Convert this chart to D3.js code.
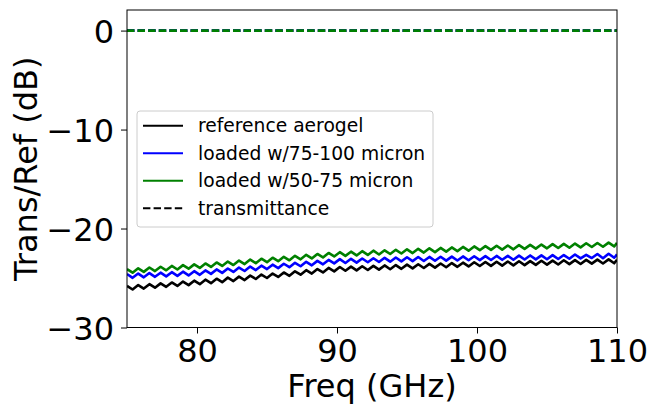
<!DOCTYPE html>
<html><head><meta charset="utf-8">
<script src="https://cdn.jsdelivr.net/npm/d3@7"></script>
<style>body{margin:0;background:#fff}svg{display:block}</style>
</head><body>
<script>
const freq = [75.0,75.4,75.8,76.2,76.6,77.0,77.4,77.8,78.2,78.6,79.0,79.4,79.8,80.2,80.6,81.0,81.4,81.8,82.2,82.6,83.0,83.4,83.8,84.2,84.6,85.0,85.4,85.8,86.2,86.6,87.0,87.4,87.8,88.2,88.6,89.0,89.4,89.8,90.2,90.6,91.0,91.4,91.8,92.2,92.6,93.0,93.4,93.8,94.2,94.6,95.0,95.4,95.8,96.2,96.6,97.0,97.4,97.8,98.2,98.6,99.0,99.4,99.8,100.2,100.6,101.0,101.4,101.8,102.2,102.6,103.0,103.4,103.8,104.2,104.6,105.0,105.4,105.8,106.2,106.6,107.0,107.4,107.8,108.2,108.6,109.0,109.4,109.8,110.0];
const referenceAerogel = [-25.80,-26.16,-25.71,-26.07,-25.62,-25.98,-25.54,-25.89,-25.45,-25.80,-25.36,-25.72,-25.27,-25.62,-25.17,-25.52,-25.07,-25.42,-24.96,-25.31,-24.86,-25.21,-24.76,-25.10,-24.65,-25.00,-24.55,-24.89,-24.44,-24.78,-24.32,-24.66,-24.21,-24.55,-24.10,-24.44,-23.98,-24.33,-23.89,-24.27,-23.85,-24.23,-23.81,-24.19,-23.77,-24.15,-23.73,-24.11,-23.69,-24.07,-23.65,-24.03,-23.61,-23.99,-23.57,-23.95,-23.53,-23.91,-23.49,-23.87,-23.45,-23.83,-23.41,-23.79,-23.38,-23.77,-23.36,-23.75,-23.33,-23.72,-23.31,-23.70,-23.29,-23.67,-23.26,-23.65,-23.24,-23.63,-23.21,-23.60,-23.19,-23.58,-23.17,-23.55,-23.14,-23.53,-23.12,-23.51,-23.15];
const loaded75to100 = [-24.60,-24.98,-24.55,-24.93,-24.50,-24.88,-24.46,-24.83,-24.41,-24.78,-24.36,-24.74,-24.31,-24.68,-24.23,-24.58,-24.13,-24.48,-24.04,-24.39,-23.94,-24.29,-23.84,-24.20,-23.75,-24.10,-23.65,-24.00,-23.56,-23.91,-23.46,-23.81,-23.36,-23.72,-23.27,-23.62,-23.17,-23.52,-23.09,-23.48,-23.06,-23.44,-23.03,-23.41,-23.00,-23.38,-22.96,-23.35,-22.93,-23.32,-22.90,-23.29,-22.88,-23.28,-22.87,-23.26,-22.85,-23.24,-22.84,-23.23,-22.82,-23.21,-22.80,-23.19,-22.79,-23.18,-22.77,-23.16,-22.76,-23.15,-22.74,-23.13,-22.72,-23.12,-22.71,-23.10,-22.69,-23.08,-22.68,-23.05,-22.62,-23.02,-22.66,-22.98,-22.58,-23.00,-22.55,-22.95,-22.62];
const loaded50to75 = [-24.10,-24.46,-24.02,-24.38,-23.94,-24.30,-23.86,-24.22,-23.78,-24.14,-23.70,-24.06,-23.62,-23.98,-23.53,-23.88,-23.43,-23.78,-23.34,-23.69,-23.24,-23.59,-23.14,-23.50,-23.05,-23.40,-22.95,-23.30,-22.86,-23.21,-22.76,-23.11,-22.66,-23.02,-22.57,-22.92,-22.47,-22.82,-22.39,-22.76,-22.34,-22.72,-22.29,-22.67,-22.24,-22.62,-22.20,-22.57,-22.15,-22.52,-22.10,-22.48,-22.05,-22.43,-22.00,-22.38,-21.96,-22.33,-21.91,-22.28,-21.86,-22.24,-21.81,-22.19,-21.78,-22.16,-21.74,-22.13,-21.71,-22.10,-21.68,-22.06,-21.65,-22.03,-21.62,-22.00,-21.58,-21.97,-21.55,-21.94,-21.52,-21.90,-21.49,-21.87,-21.46,-21.84,-21.42,-21.81,-21.45];
const transFreq = [75, 110];
const transmittance = [0, 0];
const xTicks = [80, 90, 100, 110];
const yTicks = [0, -10, -20, -30];
const seriesNames = ["reference aerogel", "loaded w/75-100 micron", "loaded w/50-75 micron", "transmittance"];
const seriesColors = ["#000000", "#0000ff", "#008000"];

const W = 647, H = 406;
const L = 127, R = 617, T = 10, B = 327.5;
const FONT = "'DejaVu Sans', sans-serif";
const svg = d3.select("body").append("svg").attr("width", W).attr("height", H);
const x = d3.scaleLinear().domain([75, 110]).range([L, R]);
const y = d3.scaleLinear().domain([-30, 2.08]).range([B, T]);

svg.append("clipPath").attr("id", "c").append("rect")
  .attr("x", L).attr("y", T).attr("width", R - L).attr("height", B - T);
const g = svg.append("g").attr("clip-path", "url(#c)");

const line = d3.line().x(d => x(d[0])).y(d => y(d[1]));
const series = [referenceAerogel, loaded75to100, loaded50to75];
series.forEach((vals, i) => {
  g.append("path").datum(freq.map((f, k) => [f, vals[k]]))
    .attr("d", line).attr("fill", "none").attr("stroke", seriesColors[i])
    .attr("stroke-width", 2.6).attr("stroke-linejoin", "round");
});
seriesColors.forEach(c => {
  g.append("path").datum(transFreq.map((f, k) => [f, transmittance[k]]))
    .attr("d", line).attr("fill", "none").attr("stroke", c)
    .attr("stroke-width", 2.6).attr("stroke-dasharray", "7.4,3.2");
});

// frame
svg.append("rect").attr("x", L).attr("y", T).attr("width", R - L).attr("height", B - T)
  .attr("fill", "none").attr("stroke", "#000").attr("stroke-width", 1);

// axes
const xAxis = svg.append("g").attr("transform", `translate(0,${B})`)
  .call(d3.axisBottom(x).tickValues(xTicks).tickSize(6).tickPadding(4).tickFormat(d3.format("d")));
const yAxis = svg.append("g").attr("transform", `translate(${L},0)`)
  .call(d3.axisLeft(y).tickValues(yTicks).tickSize(6).tickPadding(7).tickFormat(d => d < 0 ? "\u2212" + Math.abs(d) : d));
[xAxis, yAxis].forEach(a => {
  a.select(".domain").remove();
  a.selectAll("line").attr("stroke", "#000");
  a.selectAll("text").attr("font-family", FONT).attr("font-size", 32).attr("fill", "#000");
});
xAxis.selectAll("text").attr("dy", "0.76em");
yAxis.selectAll("text").attr("dy", "0.36em");

svg.append("text").attr("x", (L + R) / 2).attr("y", 397).attr("text-anchor", "middle")
  .attr("font-family", FONT).attr("font-size", 32).text("Freq (GHz)");
svg.append("text").attr("transform", `translate(37,${(T + B) / 2}) rotate(-90)`)
  .attr("text-anchor", "middle").attr("font-family", FONT).attr("font-size", 32).text("Trans/Ref (dB)");

// legend
const lg = svg.append("g");
lg.append("rect").attr("x", 137).attr("y", 111).attr("width", 296).attr("height", 116)
  .attr("rx", 3).attr("fill", "#fff").attr("fill-opacity", 0.8).attr("stroke", "#ccc").attr("stroke-width", 1);
seriesNames.forEach((name, i) => {
  const cy = 125.7 + i * 27.5;
  lg.append("line").attr("x1", 143).attr("x2", 183).attr("y1", cy).attr("y2", cy)
    .attr("stroke", i < 3 ? seriesColors[i] : "#000").attr("stroke-width", 2)
    .attr("stroke-dasharray", i < 3 ? null : "7.4,3.2");
  lg.append("text").attr("x", 198).attr("y", cy).attr("dy", "0.36em")
    .attr("font-family", FONT).attr("font-size", 18.7).text(name);
});
</script>
</body></html>
